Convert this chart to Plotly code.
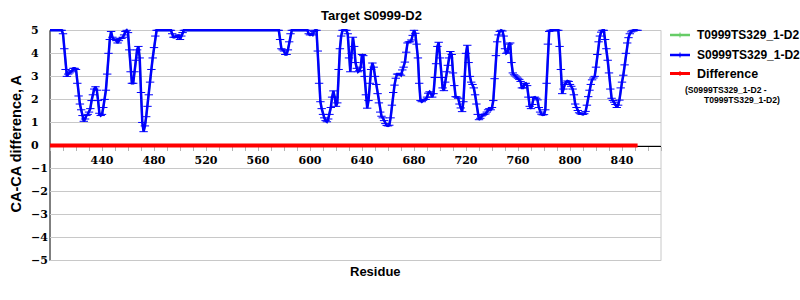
import plotly.graph_objects as go

# ---------------- data ----------------
residue_start = 400
s_values = [
    5, 5, 5, 5, 5, 5, 5, 5, 5, 5,                                  # 400
    4.85, 4.2, 3.3, 3.0, 3.1, 3.15, 3.2, 3.25, 3.35, 3.35,         # 410
    3.3, 2.7, 2.15, 1.8, 1.55, 1.3, 1.05, 1.15, 1.3, 1.35,         # 420
    1.45, 1.6, 1.95, 2.2, 2.45, 2.55, 2.4, 1.95, 1.4, 1.3,         # 430
    1.35, 1.65, 2.0, 2.4, 3.1, 4.0, 4.6, 4.95, 4.7, 4.6,           # 440
    4.6, 4.55, 4.45, 4.55, 4.65, 4.65, 4.7, 4.8, 4.95, 5,          # 450
    4.9, 4.15, 3.2, 2.7, 2.7, 3.2, 3.7, 4.15, 4.3, 3.8,            # 460
    2.3, 1.0, 0.6, 0.85, 1.25, 1.7, 2.2, 2.75, 3.3, 3.8,           # 470
    4.25, 4.75, 5, 5, 5, 5, 5, 5, 5, 5,                            # 480
    5, 5, 5, 5, 4.85, 4.7, 4.7, 4.75, 4.7, 4.8,                    # 490
    4.6, 4.75, 4.9, 5, 5, 5, 5, 5, 5, 5,                           # 500
    5, 5, 5, 5, 5, 5, 5, 5, 5, 5,                                  # 510
    5, 5, 5, 5, 5, 5, 5, 5, 5, 5,                                  # 520
    5, 5, 5, 5, 5, 5, 5, 5, 5, 5,                                  # 530
    5, 5, 5, 5, 5, 5, 5, 5, 5, 5,                                  # 540
    5, 5, 5, 5, 5, 5, 5, 5, 5, 5,                                  # 550
    5, 5, 5, 5, 5, 5, 5, 5, 5, 5,                                  # 560
    5, 5, 5, 5, 5, 5, 5, 4.6, 4.2, 4.15,                           # 570
    4.1, 3.95, 3.95, 4.15, 4.5, 4.85, 5, 5, 5, 5,                  # 580
    5, 5, 5, 5, 5, 5, 5, 5, 5, 4.85,                               # 590
    4.8, 4.85, 4.8, 4.95, 5, 5, 4.1, 2.7, 1.9, 1.6,                # 600
    1.35, 1.2, 1.08, 1.03, 1.15, 1.35, 1.65, 2.1, 2.37, 2.1,       # 610
    1.7, 1.85, 3.3, 4.2, 4.75, 5, 5, 5, 5, 4.85,                   # 620
    3.8, 3.2, 4.0, 4.7, 4.3, 3.6, 3.35, 3.2, 3.25, 3.4,            # 630
    3.95, 3.9, 3.0, 2.2, 1.62, 1.95, 2.7, 3.3, 3.58, 3.4,          # 640
    3.0, 2.65, 2.25, 1.85, 1.45, 1.27, 1.2, 1.08, 0.95, 0.87,      # 650
    0.85, 0.88, 1.2, 1.75, 2.3, 2.62, 2.92, 3.1, 3.1, 3.1,         # 660
    3.05, 3.28, 3.4, 3.62, 4.05, 4.45, 4.5, 4.5, 4.58, 4.78,       # 670
    5, 4.87, 4.4, 3.8, 2.7, 1.95, 1.9, 1.97, 2.0, 2.0,             # 680
    2.1, 2.27, 2.33, 2.25, 2.1, 2.25, 2.95, 3.55, 4.3, 4.48,       # 690
    3.8, 2.95, 2.5, 2.38, 2.75, 3.2, 3.48, 3.8, 4.08, 3.95,        # 700
    3.15, 2.6, 2.12, 2.1, 2.05, 1.8, 1.63, 1.47, 1.9, 3.0,         # 710
    4.0, 4.35, 3.6, 3.0, 2.75, 2.65, 2.5, 2.2, 1.8, 1.35,          # 720
    1.12, 1.18, 1.28, 1.32, 1.35, 1.37, 1.45, 1.55, 1.6, 1.55,     # 730
    1.65, 1.95, 2.9, 3.9, 4.5, 4.8, 4.95, 5, 4.97, 4.75,           # 740
    4.2, 4.0, 4.05, 4.4, 4.45, 3.6, 3.15, 3.07, 3.02, 2.97,        # 750
    2.92, 2.87, 2.78, 2.5, 2.5, 2.68, 2.7, 2.6, 2.1, 1.7,          # 760
    1.6, 1.78, 2.08, 2.1, 2.05, 1.98, 1.65, 1.45, 1.36, 1.33,      # 770
    1.34, 1.55, 2.7, 4.4, 4.95, 5, 5, 5, 5, 5,                     # 780
    5, 5, 4.3, 3.3, 2.25, 2.45, 2.65, 2.72, 2.8, 2.78,             # 790
    2.65, 2.57, 2.45, 2.2, 1.8, 1.65, 1.52, 1.42, 1.38, 1.35,      # 800
    1.35, 1.38, 1.48, 1.75, 2.12, 2.4, 2.65, 2.85, 2.93, 3.0,      # 810
    3.4, 3.95, 4.5, 4.75, 4.92, 5, 5, 4.6, 4.2, 3.7,               # 820
    3.15, 2.45, 2.05, 1.95, 1.88, 1.78, 1.65, 1.75, 1.97, 2.5,     # 830
    2.75, 3.05, 3.5, 4.0, 4.45, 4.68, 4.85, 4.93, 4.98, 5,         # 840
    5, 5, 5,                                                       # 850
]
residues = [residue_start + i for i in range(len(s_values))]
# T0999 model coincides with S0999 (difference is zero everywhere)
t_values = list(s_values)
diff_values = [s - t for s, t in zip(s_values, t_values)]

series_names = ["T0999TS329_1-D2", "S0999TS329_1-D2", "Difference"]
diff_subtitle = ["(S0999TS329_1-D2 -", "T0999TS329_1-D2)"]
x_tick_vals = [440, 480, 520, 560, 600, 640, 680, 720, 760, 800, 840]
x_tick_text = ["440", "480", "520", "560", "600", "640", "680", "720", "760", "800", "840"]
y_tick_vals = [5, 4, 3, 2, 1, 0, -1, -2, -3, -4, -5]
y_tick_text = ["5", "4", "3", "2", "1", "0", "\u22121", "\u22122", "\u22123", "\u22124", "\u22125"]

title_text = "Target S0999-D2"
x_title = "Residue"
y_title = "CA-CA difference, A"

GREEN = "#66cc66"
BLUE = "#0000ff"
RED = "#ff0000"
GRID = "#c8c8c8"

# ---------------- layout geometry (pixels) ----------------
W, H = 800, 300
ML, MR, MT, MB = 50, 139, 28, 37
PW, PH = W - ML - MR, H - MT - MB


def pxx(px):
    return (px - ML) / PW


def pxy(py):
    return (H - MB - py) / PH


SANS = "Liberation Sans, Arial, sans-serif"
SERIF = "DejaVu Serif"

fig = go.Figure()

fig.add_trace(go.Scatter(x=residues, y=t_values, mode="lines", name=series_names[0],
                         line=dict(color=GREEN, width=2), showlegend=False))
fig.add_trace(go.Scatter(x=residues, y=s_values, mode="lines+markers", name=series_names[1],
                         line=dict(color=BLUE, width=2.5),
                         marker=dict(color=BLUE, symbol="line-ew", size=6, line=dict(width=1, color=BLUE)),
                         showlegend=False))
fig.add_trace(go.Scatter(x=residues, y=diff_values, mode="lines", name=series_names[2],
                         line=dict(color=RED, width=4), showlegend=False))

fig.update_layout(
    width=W, height=H,
    margin=dict(l=ML, r=MR, t=MT, b=MB, pad=0),
    paper_bgcolor="white", plot_bgcolor="white",
    showlegend=False,
    xaxis=dict(
        range=[400, 870], anchor="free", position=0.5, layer="below traces",
        showline=True, linecolor="black", linewidth=1,
        showgrid=False, zeroline=False,
        ticks="outside", ticklen=4, tickcolor="#b4b4b4", tickwidth=1,
        tickmode="array", tickvals=x_tick_vals, ticktext=x_tick_text,
        tickfont=dict(family=SERIF, size=11, color="black", weight="bold"),
        minor=dict(ticks="outside", ticklen=4, tickcolor="#b4b4b4", tickwidth=1,
                   tickmode="linear", tick0=400, dtick=10, showgrid=False),
    ),
    yaxis=dict(
        range=[-5.1, 5.1], layer="below traces",
        showline=False,
        showgrid=True, gridcolor=GRID, gridwidth=1,
        tickmode="array", tickvals=y_tick_vals, showticklabels=False,
        ticks="", zeroline=False,
    ),
)

# left axis line (from -5 to 5) and right border of the plot area
fig.add_shape(type="line", xref="paper", yref="y", x0=0, x1=0, y0=-5, y1=5,
              line=dict(color="black", width=1), layer="below")
fig.add_shape(type="line", xref="paper", yref="y", x0=1, x1=1, y0=-5, y1=5,
              line=dict(color=GRID, width=1), layer="below")

annotations = []
# y tick labels (left aligned)
for v, t in zip(y_tick_vals, y_tick_text):
    annotations.append(dict(x=pxx(29), y=v, xref="paper", yref="y", text=t,
                            xanchor="left", yanchor="middle", showarrow=False,
                            font=dict(family=SERIF, size=11, color="black", weight="bold")))
# titles
annotations.append(dict(x=pxx(371), y=pxy(15), xref="paper", yref="paper", text=title_text,
                        xanchor="center", yanchor="middle", showarrow=False,
                        font=dict(family=SANS, size=13, color="black", weight="bold")))
annotations.append(dict(x=pxx(375), y=pxy(271.5), xref="paper", yref="paper", text=x_title,
                        xanchor="center", yanchor="middle", showarrow=False,
                        font=dict(family=SANS, size=13, color="black", weight="bold")))
annotations.append(dict(x=pxx(15), y=pxy(143.5), xref="paper", yref="paper", text=y_title,
                        textangle=-90, xanchor="center", yanchor="middle", showarrow=False,
                        font=dict(family=SANS, size=14.5, color="black", weight="bold")))

# legend (manual)
leg_items = [(series_names[0], GREEN, 35, 2.5), (series_names[1], BLUE, 55, 2.5), (series_names[2], RED, 73.5, 3)]
for name, col, ly, lw in leg_items:
    fig.add_shape(type="line", xref="paper", yref="paper", x0=pxx(670), x1=pxx(690),
                  y0=pxy(ly), y1=pxy(ly), line=dict(color=col, width=lw))
    fig.add_shape(type="line", xref="paper", yref="paper", x0=pxx(680), x1=pxx(680),
                  y0=pxy(ly - 2.5), y1=pxy(ly + 2.5), line=dict(color=col, width=1))
    annotations.append(dict(x=pxx(695), y=pxy(ly), xref="paper", yref="paper", text=name,
                            xanchor="left", yanchor="middle", showarrow=False,
                            font=dict(family=SANS, size=12.5 if name == "Difference" else 12,
                                      color="black", weight="bold")))
annotations.append(dict(x=pxx(683), y=pxy(89.7), xref="paper", yref="paper", text=diff_subtitle[0],
                        xanchor="left", yanchor="middle", showarrow=False,
                        font=dict(family=SANS, size=8.6, color="black", weight="bold")))
annotations.append(dict(x=pxx(701.5), y=pxy(99.5), xref="paper", yref="paper", text=diff_subtitle[1],
                        xanchor="left", yanchor="middle", showarrow=False,
                        font=dict(family=SANS, size=8.6, color="black", weight="bold")))

fig.update_layout(annotations=annotations)
fig.write_html("out.html")
